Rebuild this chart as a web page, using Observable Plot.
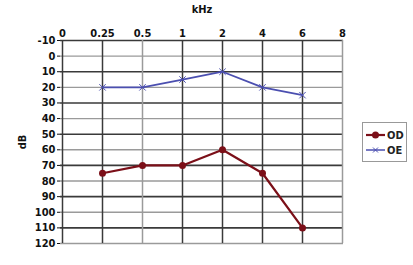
<!DOCTYPE html>
<html><head><meta charset="utf-8">
<script src="https://cdn.jsdelivr.net/npm/d3@7"></script>
<script src="https://cdn.jsdelivr.net/npm/@observablehq/plot@0.6"></script>
<style>
body{margin:0;background:#fff;}
#wrap{position:relative;width:413px;height:265px;font-family:"Liberation Sans Narrow","DejaVu Sans Condensed",sans-serif;}
#legend{position:absolute;left:362px;top:122px;width:45px;height:40px;border:1px solid #999;background:#fff;box-sizing:border-box;}
</style></head><body><div id="wrap"></div>
<script>
const freqLabels = ["0","0.25","0.5","1","2","4","6","8"];
const dbTicks = [-10,0,10,20,30,40,50,60,70,80,90,100,110,120];
const seriesFreqs = ["0.25","0.5","1","2","4","6"];
const odValues = [75,70,70,60,75,110];
const oeValues = [20,20,15,10,20,25];
const seriesNames = ["OD","OE"];

const od = seriesFreqs.map((f,i)=>({f, v: odValues[i]}));
const oe = seriesFreqs.map((f,i)=>({f, v: oeValues[i]}));
const odColor = "#7b0f18", oeColor = "#4b4fb0";
const font = '"Liberation Sans Narrow","DejaVu Sans Condensed",sans-serif';

const chart = Plot.plot({
  width: 413, height: 265,
  marginLeft: 60, marginRight: 70, marginTop: 40, marginBottom: 22,
  style: {fontFamily: font, fontSize: "11px", fontWeight: "bold", color: "#111", background: "#fff"},
  x: {type: "point", domain: freqLabels, padding: 0, axis: null},
  y: {domain: [-10,120], reverse: true, axis: null},
  marks: [
    Plot.ruleY(dbTicks, {stroke: (d)=> (d/10)%2===0 ? "#9a9a9a" : "#3a3a3a", strokeWidth: (d)=> (d/10)%2===0 ? 1.4 : 1.6}),
    Plot.ruleX(freqLabels, {stroke: (d,i)=> (i===2||i===7) ? "#9a9a9a" : "#3a3a3a", strokeWidth: 1.5}),
    Plot.axisX({anchor: "top", ticks: freqLabels, tickSize: 0, tickPadding: 4, label: "kHz", labelAnchor: "center", labelOffset: 35, labelArrow: "none", fontSize: 11}),
    Plot.axisY({anchor: "left", ticks: dbTicks, tickFormat: (d)=>String(d), tickSize: 3, tickPadding: 2, label: "dB", labelAnchor: "center", labelOffset: 42, labelArrow: "none", fontSize: 11}),
    Plot.line(od, {x: "f", y: "v", stroke: odColor, strokeWidth: 2.2}),
    Plot.dot(od, {x: "f", y: "v", fill: odColor, r: 3.5, stroke: "none"}),
    Plot.line(oe, {x: "f", y: "v", stroke: oeColor, strokeWidth: 1.8}),
    Plot.dot(oe, {x: "f", y: "v", symbol: "times", stroke: oeColor, r: 3, strokeWidth: 1})
  ]
});
const wrap = document.getElementById("wrap");
wrap.appendChild(chart);

// legend
const leg = document.createElement("div");
leg.id = "legend";
wrap.appendChild(leg);
const ls = d3.select(leg).append("svg").attr("width", 45).attr("height", 40);
const items = [{name: seriesNames[0], color: odColor, sym: "dot"}, {name: seriesNames[1], color: oeColor, sym: "x"}];
items.forEach((it, i) => {
  const y = 12 + i*15;
  ls.append("line").attr("x1", 3).attr("x2", 22).attr("y1", y).attr("y2", y).attr("stroke", it.color).attr("stroke-width", it.sym==="dot" ? 2.2 : 1.5);
  if (it.sym === "dot") ls.append("circle").attr("cx", 12.5).attr("cy", y).attr("r", 3.5).attr("fill", it.color);
  else ls.append("path").attr("d", `M${10},${y-2.5}L${15},${y+2.5}M${10},${y+2.5}L${15},${y-2.5}`).attr("stroke", it.color).attr("stroke-width", 1);
  ls.append("text").attr("x", 24).attr("y", y+4).text(it.name).attr("font-family", font).attr("font-size", 11).attr("font-weight", "bold").attr("fill", "#222");
});
</script></body></html>
